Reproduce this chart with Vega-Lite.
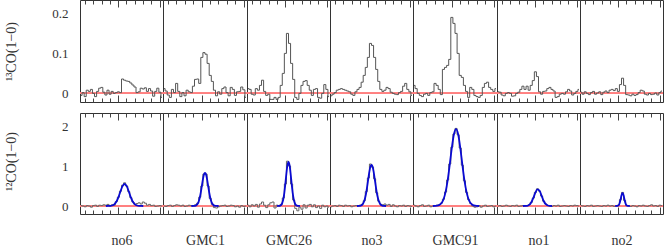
{
"$schema": "https://vega.github.io/schema/vega-lite/v6.json",
"padding": {"left": 3, "top": -1, "right": 0, "bottom": 0},
"spacing": 9,
"config": {
  "view": {"stroke": "#333333", "strokeWidth": 1},
  "axis": {"domain": false, "ticks": false, "grid": true, "gridColor": "#444444", "gridWidth": 1, "gridOpacity": 1, "labelFont": "Liberation Serif", "labelFontSize": 13, "labelColor": "#333333", "titleFont": "Liberation Serif", "titleFontSize": 14, "titleFontWeight": "normal", "titleColor": "#333333", "labelOverlap": false, "labelFlush": false},
  "concat": {"spacing": 0}
},
"datasets": {
"spec": [
{"s":"no6","c":0,"t":-0.005,"m":0.01},{"s":"no6","c":1,"t":0.002,"m":0.0},{"s":"no6","c":2,"t":-0.008,"m":-0.02},{"s":"no6","c":3,"t":0.008,"m":0.01},{"s":"no6","c":4,"t":0.005,"m":0.0},{"s":"no6","c":5,"t":0.01,"m":-0.03},{"s":"no6","c":6,"t":0.0,"m":0.01},{"s":"no6","c":7,"t":-0.008,"m":0.02},{"s":"no6","c":8,"t":0.005,"m":-0.01},{"s":"no6","c":9,"t":0.013,"m":0.02},
{"s":"no6","c":10,"t":0.015,"m":0.01},{"s":"no6","c":11,"t":0.003,"m":0.03},{"s":"no6","c":12,"t":-0.004,"m":0.02},{"s":"no6","c":13,"t":0.008,"m":0.04},{"s":"no6","c":14,"t":-0.002,"m":0.0},{"s":"no6","c":15,"t":0.005,"m":0.03},{"s":"no6","c":16,"t":0.0,"m":0.02},{"s":"no6","c":17,"t":0.002,"m":0.11},{"s":"no6","c":18,"t":0.004,"m":0.22},{"s":"no6","c":19,"t":0.002,"m":0.37},
{"s":"no6","c":20,"t":0.036,"m":0.52},{"s":"no6","c":21,"t":0.033,"m":0.58},{"s":"no6","c":22,"t":0.031,"m":0.5},{"s":"no6","c":23,"t":0.03,"m":0.36},{"s":"no6","c":24,"t":0.026,"m":0.21},{"s":"no6","c":25,"t":0.021,"m":0.1},{"s":"no6","c":26,"t":0.016,"m":0.04},{"s":"no6","c":27,"t":0.002,"m":0.06},{"s":"no6","c":28,"t":0.004,"m":0.08},{"s":"no6","c":29,"t":0.013,"m":0.05},
{"s":"no6","c":30,"t":0.011,"m":0.1},{"s":"no6","c":31,"t":0.014,"m":0.07},{"s":"no6","c":32,"t":0.005,"m":0.02},{"s":"no6","c":33,"t":0.012,"m":0.04},{"s":"no6","c":34,"t":0.006,"m":0.01},{"s":"no6","c":35,"t":-0.007,"m":0.02},{"s":"no6","c":36,"t":0.005,"m":-0.01},{"s":"no6","c":37,"t":0.013,"m":0.0},{"s":"no6","c":38,"t":0.003,"m":0.01},{"s":"no6","c":39,"t":-0.01,"m":0.0},

{"s":"GMC1","c":0,"t":0.012,"m":0.0},{"s":"GMC1","c":1,"t":0.006,"m":-0.01},{"s":"GMC1","c":2,"t":-0.004,"m":0.01},{"s":"GMC1","c":3,"t":-0.01,"m":0.02},{"s":"GMC1","c":4,"t":0.01,"m":-0.01},{"s":"GMC1","c":5,"t":0.002,"m":0.01},{"s":"GMC1","c":6,"t":0.025,"m":0.03},{"s":"GMC1","c":7,"t":0.005,"m":0.02},{"s":"GMC1","c":8,"t":-0.008,"m":0.0},{"s":"GMC1","c":9,"t":0.002,"m":0.02},
{"s":"GMC1","c":10,"t":-0.006,"m":-0.01},{"s":"GMC1","c":11,"t":0.008,"m":0.0},{"s":"GMC1","c":12,"t":0.004,"m":0.02},{"s":"GMC1","c":13,"t":0.002,"m":0.01},{"s":"GMC1","c":14,"t":0.018,"m":0.0},{"s":"GMC1","c":15,"t":0.035,"m":0.03},{"s":"GMC1","c":16,"t":0.036,"m":0.07},{"s":"GMC1","c":17,"t":0.025,"m":0.22},{"s":"GMC1","c":18,"t":0.09,"m":0.5},{"s":"GMC1","c":19,"t":0.102,"m":0.8},
{"s":"GMC1","c":20,"t":0.098,"m":0.8},{"s":"GMC1","c":21,"t":0.075,"m":0.5},{"s":"GMC1","c":22,"t":0.045,"m":0.19},{"s":"GMC1","c":23,"t":0.03,"m":0.04},{"s":"GMC1","c":24,"t":0.008,"m":-0.04},{"s":"GMC1","c":25,"t":-0.006,"m":-0.05},{"s":"GMC1","c":26,"t":0.004,"m":-0.02},{"s":"GMC1","c":27,"t":-0.002,"m":0.0},{"s":"GMC1","c":28,"t":0.012,"m":0.01},{"s":"GMC1","c":29,"t":0.016,"m":0.02},
{"s":"GMC1","c":30,"t":0.002,"m":-0.01},{"s":"GMC1","c":31,"t":-0.006,"m":0.0},{"s":"GMC1","c":32,"t":0.015,"m":0.02},{"s":"GMC1","c":33,"t":0.01,"m":0.01},{"s":"GMC1","c":34,"t":-0.005,"m":-0.02},{"s":"GMC1","c":35,"t":0.004,"m":0.0},{"s":"GMC1","c":36,"t":0.005,"m":-0.03},{"s":"GMC1","c":37,"t":0.016,"m":0.01},{"s":"GMC1","c":38,"t":0.009,"m":-0.01},{"s":"GMC1","c":39,"t":-0.01,"m":0.0},

{"s":"GMC26","c":0,"t":0.012,"m":0.02},{"s":"GMC26","c":1,"t":0.01,"m":-0.02},{"s":"GMC26","c":2,"t":-0.002,"m":0.03},{"s":"GMC26","c":3,"t":-0.004,"m":0.0},{"s":"GMC26","c":4,"t":0.012,"m":0.04},{"s":"GMC26","c":5,"t":0.008,"m":-0.03},{"s":"GMC26","c":6,"t":0.02,"m":0.05},{"s":"GMC26","c":7,"t":0.033,"m":0.1},{"s":"GMC26","c":8,"t":0.005,"m":0.02},{"s":"GMC26","c":9,"t":-0.005,"m":-0.04},
{"s":"GMC26","c":10,"t":-0.002,"m":0.03},{"s":"GMC26","c":11,"t":-0.015,"m":0.08},{"s":"GMC26","c":12,"t":-0.015,"m":0.1},{"s":"GMC26","c":13,"t":-0.01,"m":-0.05},{"s":"GMC26","c":14,"t":-0.015,"m":0.02},{"s":"GMC26","c":15,"t":-0.01,"m":0.0},{"s":"GMC26","c":16,"t":0.02,"m":0.04},{"s":"GMC26","c":17,"t":0.05,"m":0.2},{"s":"GMC26","c":18,"t":0.1,"m":0.55},{"s":"GMC26","c":19,"t":0.15,"m":1.12},
{"s":"GMC26","c":20,"t":0.125,"m":1.0},{"s":"GMC26","c":21,"t":0.075,"m":0.55},{"s":"GMC26","c":22,"t":0.035,"m":0.15},{"s":"GMC26","c":23,"t":-0.01,"m":-0.06},{"s":"GMC26","c":24,"t":-0.015,"m":-0.12},{"s":"GMC26","c":25,"t":0.0,"m":-0.03},{"s":"GMC26","c":26,"t":0.02,"m":-0.08},{"s":"GMC26","c":27,"t":0.03,"m":0.03},{"s":"GMC26","c":28,"t":0.032,"m":-0.05},{"s":"GMC26","c":29,"t":0.02,"m":0.02},
{"s":"GMC26","c":30,"t":0.008,"m":0.04},{"s":"GMC26","c":31,"t":-0.005,"m":-0.02},{"s":"GMC26","c":32,"t":0.01,"m":0.03},{"s":"GMC26","c":33,"t":0.012,"m":-0.04},{"s":"GMC26","c":34,"t":-0.01,"m":0.0},{"s":"GMC26","c":35,"t":-0.012,"m":-0.06},{"s":"GMC26","c":36,"t":0.0,"m":0.02},{"s":"GMC26","c":37,"t":0.022,"m":-0.02},{"s":"GMC26","c":38,"t":0.01,"m":0.0},{"s":"GMC26","c":39,"t":-0.008,"m":-0.03},

{"s":"no3","c":0,"t":-0.006,"m":-0.02},{"s":"no3","c":1,"t":-0.002,"m":0.0},{"s":"no3","c":2,"t":0.002,"m":0.01},{"s":"no3","c":3,"t":0.008,"m":-0.01},{"s":"no3","c":4,"t":0.01,"m":0.02},{"s":"no3","c":5,"t":0.012,"m":0.01},{"s":"no3","c":6,"t":0.01,"m":-0.01},{"s":"no3","c":7,"t":0.008,"m":0.02},{"s":"no3","c":8,"t":0.006,"m":0.0},{"s":"no3","c":9,"t":0.004,"m":0.01},
{"s":"no3","c":10,"t":-0.002,"m":-0.02},{"s":"no3","c":11,"t":-0.005,"m":0.0},{"s":"no3","c":12,"t":0.004,"m":0.01},{"s":"no3","c":13,"t":0.01,"m":0.0},{"s":"no3","c":14,"t":0.015,"m":0.02},{"s":"no3","c":15,"t":0.028,"m":0.04},{"s":"no3","c":16,"t":0.045,"m":0.13},{"s":"no3","c":17,"t":0.065,"m":0.36},{"s":"no3","c":18,"t":0.09,"m":0.7},{"s":"no3","c":19,"t":0.125,"m":1.05},
{"s":"no3","c":20,"t":0.12,"m":0.97},{"s":"no3","c":21,"t":0.09,"m":0.68},{"s":"no3","c":22,"t":0.06,"m":0.33},{"s":"no3","c":23,"t":0.03,"m":0.12},{"s":"no3","c":24,"t":0.01,"m":0.04},{"s":"no3","c":25,"t":0.005,"m":0.03},{"s":"no3","c":26,"t":0.008,"m":0.05},{"s":"no3","c":27,"t":0.015,"m":0.02},{"s":"no3","c":28,"t":0.012,"m":0.04},{"s":"no3","c":29,"t":0.003,"m":-0.01},
{"s":"no3","c":30,"t":0.0,"m":0.03},{"s":"no3","c":31,"t":-0.002,"m":0.0},{"s":"no3","c":32,"t":-0.003,"m":-0.02},{"s":"no3","c":33,"t":0.002,"m":0.01},{"s":"no3","c":34,"t":0.005,"m":0.0},{"s":"no3","c":35,"t":0.018,"m":0.02},{"s":"no3","c":36,"t":0.025,"m":-0.01},{"s":"no3","c":37,"t":0.01,"m":0.01},{"s":"no3","c":38,"t":0.004,"m":0.0},{"s":"no3","c":39,"t":-0.005,"m":-0.01},

{"s":"GMC91","c":0,"t":0.02,"m":0.02},{"s":"GMC91","c":1,"t":0.012,"m":0.0},{"s":"GMC91","c":2,"t":0.0,"m":-0.02},{"s":"GMC91","c":3,"t":-0.005,"m":0.01},{"s":"GMC91","c":4,"t":-0.008,"m":0.03},{"s":"GMC91","c":5,"t":-0.002,"m":-0.01},{"s":"GMC91","c":6,"t":0.0,"m":0.0},{"s":"GMC91","c":7,"t":-0.005,"m":0.02},{"s":"GMC91","c":8,"t":0.002,"m":-0.02},{"s":"GMC91","c":9,"t":0.004,"m":0.0},
{"s":"GMC91","c":10,"t":0.025,"m":0.01},{"s":"GMC91","c":11,"t":0.02,"m":0.02},{"s":"GMC91","c":12,"t":0.01,"m":0.03},{"s":"GMC91","c":13,"t":-0.003,"m":0.07},{"s":"GMC91","c":14,"t":0.06,"m":0.17},{"s":"GMC91","c":15,"t":0.065,"m":0.35},{"s":"GMC91","c":16,"t":0.07,"m":0.65},{"s":"GMC91","c":17,"t":0.085,"m":1.05},{"s":"GMC91","c":18,"t":0.19,"m":1.47},{"s":"GMC91","c":19,"t":0.175,"m":1.8},
{"s":"GMC91","c":20,"t":0.15,"m":1.94},{"s":"GMC91","c":21,"t":0.1,"m":1.78},{"s":"GMC91","c":22,"t":0.045,"m":1.45},{"s":"GMC91","c":23,"t":0.04,"m":1.02},{"s":"GMC91","c":24,"t":0.02,"m":0.63},{"s":"GMC91","c":25,"t":0.005,"m":0.34},{"s":"GMC91","c":26,"t":-0.01,"m":0.16},{"s":"GMC91","c":27,"t":0.015,"m":0.06},{"s":"GMC91","c":28,"t":0.01,"m":0.0},{"s":"GMC91","c":29,"t":-0.005,"m":-0.03},
{"s":"GMC91","c":30,"t":-0.008,"m":-0.02},{"s":"GMC91","c":31,"t":-0.01,"m":0.01},{"s":"GMC91","c":32,"t":-0.005,"m":-0.03},{"s":"GMC91","c":33,"t":0.015,"m":0.0},{"s":"GMC91","c":34,"t":0.025,"m":0.02},{"s":"GMC91","c":35,"t":0.028,"m":-0.01},{"s":"GMC91","c":36,"t":0.015,"m":0.0},{"s":"GMC91","c":37,"t":0.01,"m":0.01},{"s":"GMC91","c":38,"t":0.005,"m":-0.02},{"s":"GMC91","c":39,"t":0.012,"m":0.0},

{"s":"no1","c":0,"t":0.004,"m":0.0},{"s":"no1","c":1,"t":0.003,"m":0.01},{"s":"no1","c":2,"t":-0.004,"m":-0.01},{"s":"no1","c":3,"t":-0.006,"m":0.0},{"s":"no1","c":4,"t":0.0,"m":0.02},{"s":"no1","c":5,"t":0.002,"m":0.0},{"s":"no1","c":6,"t":0.0,"m":-0.01},{"s":"no1","c":7,"t":-0.007,"m":0.01},{"s":"no1","c":8,"t":-0.006,"m":0.0},{"s":"no1","c":9,"t":0.0,"m":0.02},
{"s":"no1","c":10,"t":0.003,"m":-0.01},{"s":"no1","c":11,"t":0.01,"m":0.0},{"s":"no1","c":12,"t":0.018,"m":0.01},{"s":"no1","c":13,"t":0.01,"m":0.0},{"s":"no1","c":14,"t":0.018,"m":0.01},{"s":"no1","c":15,"t":0.008,"m":0.03},{"s":"no1","c":16,"t":0.02,"m":0.09},{"s":"no1","c":17,"t":0.032,"m":0.2},{"s":"no1","c":18,"t":0.054,"m":0.34},{"s":"no1","c":19,"t":0.042,"m":0.43},
{"s":"no1","c":20,"t":0.004,"m":0.37},{"s":"no1","c":21,"t":-0.002,"m":0.25},{"s":"no1","c":22,"t":0.005,"m":0.12},{"s":"no1","c":23,"t":0.006,"m":0.05},{"s":"no1","c":24,"t":0.012,"m":0.01},{"s":"no1","c":25,"t":0.015,"m":0.0},{"s":"no1","c":26,"t":0.01,"m":-0.01},{"s":"no1","c":27,"t":0.006,"m":0.01},{"s":"no1","c":28,"t":-0.01,"m":0.0},{"s":"no1","c":29,"t":-0.008,"m":0.02},
{"s":"no1","c":30,"t":-0.002,"m":-0.01},{"s":"no1","c":31,"t":0.0,"m":0.0},{"s":"no1","c":32,"t":-0.002,"m":0.01},{"s":"no1","c":33,"t":0.004,"m":0.0},{"s":"no1","c":34,"t":0.01,"m":-0.01},{"s":"no1","c":35,"t":0.006,"m":0.01},{"s":"no1","c":36,"t":-0.004,"m":0.0},{"s":"no1","c":37,"t":0.0,"m":0.02},{"s":"no1","c":38,"t":0.005,"m":0.01},{"s":"no1","c":39,"t":0.01,"m":0.0},

{"s":"no2","c":0,"t":0.003,"m":0.01},{"s":"no2","c":1,"t":-0.002,"m":0.0},{"s":"no2","c":2,"t":0.004,"m":-0.01},{"s":"no2","c":3,"t":0.0,"m":0.01},{"s":"no2","c":4,"t":-0.003,"m":0.0},{"s":"no2","c":5,"t":0.002,"m":0.02},{"s":"no2","c":6,"t":0.005,"m":-0.01},{"s":"no2","c":7,"t":-0.002,"m":0.0},{"s":"no2","c":8,"t":0.001,"m":0.01},{"s":"no2","c":9,"t":0.004,"m":0.0},
{"s":"no2","c":10,"t":-0.003,"m":-0.01},{"s":"no2","c":11,"t":0.003,"m":0.01},{"s":"no2","c":12,"t":0.006,"m":0.0},{"s":"no2","c":13,"t":0.002,"m":0.02},{"s":"no2","c":14,"t":0.008,"m":0.0},{"s":"no2","c":15,"t":0.01,"m":0.01},{"s":"no2","c":16,"t":0.007,"m":-0.01},{"s":"no2","c":17,"t":0.012,"m":0.0},{"s":"no2","c":18,"t":0.005,"m":0.02},{"s":"no2","c":19,"t":0.022,"m":0.16},
{"s":"no2","c":20,"t":0.038,"m":0.34},{"s":"no2","c":21,"t":0.02,"m":0.14},{"s":"no2","c":22,"t":-0.003,"m":0.01},{"s":"no2","c":23,"t":-0.004,"m":0.0},{"s":"no2","c":24,"t":-0.006,"m":-0.01},{"s":"no2","c":25,"t":-0.002,"m":0.01},{"s":"no2","c":26,"t":-0.005,"m":0.0},{"s":"no2","c":27,"t":-0.003,"m":-0.02},{"s":"no2","c":28,"t":0.002,"m":0.01},{"s":"no2","c":29,"t":0.008,"m":0.0},
{"s":"no2","c":30,"t":0.006,"m":0.02},{"s":"no2","c":31,"t":-0.002,"m":0.0},{"s":"no2","c":32,"t":-0.004,"m":-0.01},{"s":"no2","c":33,"t":0.0,"m":0.01},{"s":"no2","c":34,"t":-0.003,"m":0.03},{"s":"no2","c":35,"t":-0.002,"m":0.0},{"s":"no2","c":36,"t":0.001,"m":0.01},{"s":"no2","c":37,"t":-0.004,"m":-0.01},{"s":"no2","c":38,"t":0.002,"m":0.02},{"s":"no2","c":39,"t":0.006,"m":0.01}
],
"fit": [
{"s":"no6","x":12,"f":0},{"s":"no6","x":13,"f":0.001},{"s":"no6","x":14,"f":0.003},{"s":"no6","x":15,"f":0.013},{"s":"no6","x":16,"f":0.042},{"s":"no6","x":17,"f":0.105},{"s":"no6","x":18,"f":0.217},{"s":"no6","x":19,"f":0.364},{"s":"no6","x":20,"f":0.496},{"s":"no6","x":21,"f":0.55},{"s":"no6","x":22,"f":0.496},{"s":"no6","x":23,"f":0.364},{"s":"no6","x":24,"f":0.217},{"s":"no6","x":25,"f":0.105},{"s":"no6","x":26,"f":0.042},{"s":"no6","x":27,"f":0.013},{"s":"no6","x":28,"f":0.003},{"s":"no6","x":29,"f":0.001},{"s":"no6","x":30,"f":0},
{"s":"GMC1","x":13,"f":0},{"s":"GMC1","x":14,"f":0.001},{"s":"GMC1","x":14.5,"f":0.003},{"s":"GMC1","x":15,"f":0.009},{"s":"GMC1","x":15.5,"f":0.024},{"s":"GMC1","x":16,"f":0.055},{"s":"GMC1","x":16.5,"f":0.112},{"s":"GMC1","x":17,"f":0.207},{"s":"GMC1","x":17.5,"f":0.341},{"s":"GMC1","x":18,"f":0.503},{"s":"GMC1","x":18.5,"f":0.665},{"s":"GMC1","x":19,"f":0.785},{"s":"GMC1","x":19.5,"f":0.83},{"s":"GMC1","x":20,"f":0.785},{"s":"GMC1","x":20.5,"f":0.665},{"s":"GMC1","x":21,"f":0.503},{"s":"GMC1","x":21.5,"f":0.341},{"s":"GMC1","x":22,"f":0.207},{"s":"GMC1","x":22.5,"f":0.112},{"s":"GMC1","x":23,"f":0.055},{"s":"GMC1","x":23.5,"f":0.024},{"s":"GMC1","x":24,"f":0.009},{"s":"GMC1","x":24.5,"f":0.003},{"s":"GMC1","x":25,"f":0.001},{"s":"GMC1","x":26,"f":0},
{"s":"GMC26","x":14,"f":0},{"s":"GMC26","x":14.5,"f":0.001},{"s":"GMC26","x":15,"f":0.003},{"s":"GMC26","x":15.5,"f":0.01},{"s":"GMC26","x":16,"f":0.029},{"s":"GMC26","x":16.5,"f":0.077},{"s":"GMC26","x":17,"f":0.173},{"s":"GMC26","x":17.5,"f":0.337},{"s":"GMC26","x":18,"f":0.565},{"s":"GMC26","x":18.5,"f":0.818},{"s":"GMC26","x":19,"f":1.021},{"s":"GMC26","x":19.5,"f":1.1},{"s":"GMC26","x":20,"f":1.021},{"s":"GMC26","x":20.5,"f":0.818},{"s":"GMC26","x":21,"f":0.565},{"s":"GMC26","x":21.5,"f":0.337},{"s":"GMC26","x":22,"f":0.173},{"s":"GMC26","x":22.5,"f":0.077},{"s":"GMC26","x":23,"f":0.029},{"s":"GMC26","x":23.5,"f":0.01},{"s":"GMC26","x":24,"f":0.003},{"s":"GMC26","x":24.5,"f":0.001},{"s":"GMC26","x":25,"f":0},
{"s":"no3","x":12.5,"f":0},{"s":"no3","x":13.5,"f":0.002},{"s":"no3","x":14,"f":0.005},{"s":"no3","x":14.5,"f":0.014},{"s":"no3","x":15,"f":0.031},{"s":"no3","x":15.5,"f":0.065},{"s":"no3","x":16,"f":0.124},{"s":"no3","x":16.5,"f":0.217},{"s":"no3","x":17,"f":0.349},{"s":"no3","x":17.5,"f":0.515},{"s":"no3","x":18,"f":0.698},{"s":"no3","x":18.5,"f":0.866},{"s":"no3","x":19,"f":0.986},{"s":"no3","x":19.5,"f":1.03},{"s":"no3","x":20,"f":0.986},{"s":"no3","x":20.5,"f":0.866},{"s":"no3","x":21,"f":0.698},{"s":"no3","x":21.5,"f":0.515},{"s":"no3","x":22,"f":0.349},{"s":"no3","x":22.5,"f":0.217},{"s":"no3","x":23,"f":0.124},{"s":"no3","x":23.5,"f":0.065},{"s":"no3","x":24,"f":0.031},{"s":"no3","x":24.5,"f":0.014},{"s":"no3","x":25,"f":0.005},{"s":"no3","x":25.5,"f":0.002},{"s":"no3","x":26.5,"f":0},
{"s":"GMC91","x":9,"f":0},{"s":"GMC91","x":10,"f":0.002},{"s":"GMC91","x":11,"f":0.007},{"s":"GMC91","x":12,"f":0.024},{"s":"GMC91","x":13,"f":0.067},{"s":"GMC91","x":14,"f":0.163},{"s":"GMC91","x":15,"f":0.346},{"s":"GMC91","x":16,"f":0.641},{"s":"GMC91","x":17,"f":1.036},{"s":"GMC91","x":18,"f":1.46},{"s":"GMC91","x":19,"f":1.793},{"s":"GMC91","x":20,"f":1.92},{"s":"GMC91","x":21,"f":1.793},{"s":"GMC91","x":22,"f":1.46},{"s":"GMC91","x":23,"f":1.036},{"s":"GMC91","x":24,"f":0.641},{"s":"GMC91","x":25,"f":0.346},{"s":"GMC91","x":26,"f":0.163},{"s":"GMC91","x":27,"f":0.067},{"s":"GMC91","x":28,"f":0.024},{"s":"GMC91","x":29,"f":0.007},{"s":"GMC91","x":30,"f":0.002},{"s":"GMC91","x":31,"f":0},
{"s":"no1","x":12,"f":0},{"s":"no1","x":13,"f":0.001},{"s":"no1","x":14,"f":0.006},{"s":"no1","x":15,"f":0.028},{"s":"no1","x":16,"f":0.087},{"s":"no1","x":17,"f":0.199},{"s":"no1","x":18,"f":0.336},{"s":"no1","x":19,"f":0.417},{"s":"no1","x":20,"f":0.38},{"s":"no1","x":21,"f":0.255},{"s":"no1","x":22,"f":0.125},{"s":"no1","x":23,"f":0.045},{"s":"no1","x":24,"f":0.012},{"s":"no1","x":25,"f":0.002},{"s":"no1","x":26,"f":0},
{"s":"no2","x":16.5,"f":0},{"s":"no2","x":17,"f":0.001},{"s":"no2","x":17.5,"f":0.003},{"s":"no2","x":18,"f":0.015},{"s":"no2","x":18.5,"f":0.057},{"s":"no2","x":19,"f":0.151},{"s":"no2","x":19.5,"f":0.271},{"s":"no2","x":20,"f":0.33},{"s":"no2","x":20.5,"f":0.271},{"s":"no2","x":21,"f":0.151},{"s":"no2","x":21.5,"f":0.057},{"s":"no2","x":22,"f":0.015},{"s":"no2","x":22.5,"f":0.003},{"s":"no2","x":23,"f":0.001},{"s":"no2","x":23.5,"f":0}
]
},
"data": {"name": "spec"},
"vconcat": [
{"bounds": "flush", "hconcat": [
{"width":83,"height":102,"transform":[{"filter":"datum.s==='no6'"}],"resolve":{"axis":{"x":"independent","y":"independent"}},"layer":[
 {"mark":{"type":"rule","color":"#ff8080","strokeWidth":1},"encoding":{"y":{"datum":0,"type":"quantitative","scale":{"domain":[-0.0215,0.2335],"nice":false,"zero":false},"axis":{"values":[0,0.1,0.2],"grid":false,"labels":true,"format":"~g","labelPadding":12,"title":"¹³CO(1−0)","titleX":-62,"titleY":51}}}},
 {"mark":{"type":"line","interpolate":"step","color":"#555555","strokeWidth":1},"encoding":{"x":{"field":"c","type":"quantitative","scale":{"domain":[-0.5,39.5],"nice":false,"zero":false},"axis":{"values":[1.9,5.9,9.9,13.9,17.9,21.9,25.9,29.9,33.9,37.9],"gridDash":{"condition":{"test":"datum.value==17.9||datum.value==37.9","value":[7,88]},"value":[4,94]},"labels":false,"title":null}},"y":{"field":"t","type":"quantitative","scale":{"domain":[-0.0215,0.2335],"nice":false,"zero":false},"axis":{"values":[-0.02,0,0.02,0.04,0.06,0.08,0.1,0.12,0.14,0.16,0.18,0.2,0.22],"gridDash":{"condition":{"test":"datum.value==0||datum.value==0.1||datum.value==0.2","value":[7,69]},"value":[4,75]},"labels":false,"title":null}}}}
]},
{"width":84,"height":102,"transform":[{"filter":"datum.s==='GMC1'"}],"resolve":{"axis":{"x":"independent","y":"independent"}},"layer":[
 {"mark":{"type":"rule","color":"#ff8080","strokeWidth":1},"encoding":{"y":{"datum":0,"type":"quantitative","scale":{"domain":[-0.0215,0.2335],"nice":false,"zero":false},"axis":null}}},
 {"mark":{"type":"line","interpolate":"step","color":"#555555","strokeWidth":1},"encoding":{"x":{"field":"c","type":"quantitative","scale":{"domain":[-0.5,39.5],"nice":false,"zero":false},"axis":{"values":[1.9,5.9,9.9,13.9,17.9,21.9,25.9,29.9,33.9,37.9],"gridDash":{"condition":{"test":"datum.value==17.9||datum.value==37.9","value":[7,88]},"value":[4,94]},"labels":false,"title":null}},"y":{"field":"t","type":"quantitative","scale":{"domain":[-0.0215,0.2335],"nice":false,"zero":false},"axis":{"values":[-0.02,0,0.02,0.04,0.06,0.08,0.1,0.12,0.14,0.16,0.18,0.2,0.22],"gridDash":{"condition":{"test":"datum.value==0||datum.value==0.1||datum.value==0.2","value":[7,70]},"value":[4,76]},"labels":false,"title":null}}}}
]},
{"width":83,"height":102,"transform":[{"filter":"datum.s==='GMC26'"}],"resolve":{"axis":{"x":"independent","y":"independent"}},"layer":[
 {"mark":{"type":"rule","color":"#ff8080","strokeWidth":1},"encoding":{"y":{"datum":0,"type":"quantitative","scale":{"domain":[-0.0215,0.2335],"nice":false,"zero":false},"axis":null}}},
 {"mark":{"type":"line","interpolate":"step","color":"#555555","strokeWidth":1},"encoding":{"x":{"field":"c","type":"quantitative","scale":{"domain":[-0.5,39.5],"nice":false,"zero":false},"axis":{"values":[1.9,5.9,9.9,13.9,17.9,21.9,25.9,29.9,33.9,37.9],"gridDash":{"condition":{"test":"datum.value==17.9||datum.value==37.9","value":[7,88]},"value":[4,94]},"labels":false,"title":null}},"y":{"field":"t","type":"quantitative","scale":{"domain":[-0.0215,0.2335],"nice":false,"zero":false},"axis":{"values":[-0.02,0,0.02,0.04,0.06,0.08,0.1,0.12,0.14,0.16,0.18,0.2,0.22],"gridDash":{"condition":{"test":"datum.value==0||datum.value==0.1||datum.value==0.2","value":[7,69]},"value":[4,75]},"labels":false,"title":null}}}}
]},
{"width":83,"height":102,"transform":[{"filter":"datum.s==='no3'"}],"resolve":{"axis":{"x":"independent","y":"independent"}},"layer":[
 {"mark":{"type":"rule","color":"#ff8080","strokeWidth":1},"encoding":{"y":{"datum":0,"type":"quantitative","scale":{"domain":[-0.0215,0.2335],"nice":false,"zero":false},"axis":null}}},
 {"mark":{"type":"line","interpolate":"step","color":"#555555","strokeWidth":1},"encoding":{"x":{"field":"c","type":"quantitative","scale":{"domain":[-0.5,39.5],"nice":false,"zero":false},"axis":{"values":[1.9,5.9,9.9,13.9,17.9,21.9,25.9,29.9,33.9,37.9],"gridDash":{"condition":{"test":"datum.value==17.9||datum.value==37.9","value":[7,88]},"value":[4,94]},"labels":false,"title":null}},"y":{"field":"t","type":"quantitative","scale":{"domain":[-0.0215,0.2335],"nice":false,"zero":false},"axis":{"values":[-0.02,0,0.02,0.04,0.06,0.08,0.1,0.12,0.14,0.16,0.18,0.2,0.22],"gridDash":{"condition":{"test":"datum.value==0||datum.value==0.1||datum.value==0.2","value":[7,69]},"value":[4,75]},"labels":false,"title":null}}}}
]},
{"width":84,"height":102,"transform":[{"filter":"datum.s==='GMC91'"}],"resolve":{"axis":{"x":"independent","y":"independent"}},"layer":[
 {"mark":{"type":"rule","color":"#ff8080","strokeWidth":1},"encoding":{"y":{"datum":0,"type":"quantitative","scale":{"domain":[-0.0215,0.2335],"nice":false,"zero":false},"axis":null}}},
 {"mark":{"type":"line","interpolate":"step","color":"#555555","strokeWidth":1},"encoding":{"x":{"field":"c","type":"quantitative","scale":{"domain":[-0.5,39.5],"nice":false,"zero":false},"axis":{"values":[1.9,5.9,9.9,13.9,17.9,21.9,25.9,29.9,33.9,37.9],"gridDash":{"condition":{"test":"datum.value==17.9||datum.value==37.9","value":[7,88]},"value":[4,94]},"labels":false,"title":null}},"y":{"field":"t","type":"quantitative","scale":{"domain":[-0.0215,0.2335],"nice":false,"zero":false},"axis":{"values":[-0.02,0,0.02,0.04,0.06,0.08,0.1,0.12,0.14,0.16,0.18,0.2,0.22],"gridDash":{"condition":{"test":"datum.value==0||datum.value==0.1||datum.value==0.2","value":[7,70]},"value":[4,76]},"labels":false,"title":null}}}}
]},
{"width":83,"height":102,"transform":[{"filter":"datum.s==='no1'"}],"resolve":{"axis":{"x":"independent","y":"independent"}},"layer":[
 {"mark":{"type":"rule","color":"#ff8080","strokeWidth":1},"encoding":{"y":{"datum":0,"type":"quantitative","scale":{"domain":[-0.0215,0.2335],"nice":false,"zero":false},"axis":null}}},
 {"mark":{"type":"line","interpolate":"step","color":"#555555","strokeWidth":1},"encoding":{"x":{"field":"c","type":"quantitative","scale":{"domain":[-0.5,39.5],"nice":false,"zero":false},"axis":{"values":[1.9,5.9,9.9,13.9,17.9,21.9,25.9,29.9,33.9,37.9],"gridDash":{"condition":{"test":"datum.value==17.9||datum.value==37.9","value":[7,88]},"value":[4,94]},"labels":false,"title":null}},"y":{"field":"t","type":"quantitative","scale":{"domain":[-0.0215,0.2335],"nice":false,"zero":false},"axis":{"values":[-0.02,0,0.02,0.04,0.06,0.08,0.1,0.12,0.14,0.16,0.18,0.2,0.22],"gridDash":{"condition":{"test":"datum.value==0||datum.value==0.1||datum.value==0.2","value":[7,69]},"value":[4,75]},"labels":false,"title":null}}}}
]},
{"width":83,"height":102,"transform":[{"filter":"datum.s==='no2'"}],"resolve":{"axis":{"x":"independent","y":"independent"}},"layer":[
 {"mark":{"type":"rule","color":"#ff8080","strokeWidth":1},"encoding":{"y":{"datum":0,"type":"quantitative","scale":{"domain":[-0.0215,0.2335],"nice":false,"zero":false},"axis":null}}},
 {"mark":{"type":"line","interpolate":"step","color":"#555555","strokeWidth":1},"encoding":{"x":{"field":"c","type":"quantitative","scale":{"domain":[-0.5,39.5],"nice":false,"zero":false},"axis":{"values":[1.9,5.9,9.9,13.9,17.9,21.9,25.9,29.9,33.9,37.9],"gridDash":{"condition":{"test":"datum.value==17.9||datum.value==37.9","value":[7,88]},"value":[4,94]},"labels":false,"title":null}},"y":{"field":"t","type":"quantitative","scale":{"domain":[-0.0215,0.2335],"nice":false,"zero":false},"axis":{"values":[-0.02,0,0.02,0.04,0.06,0.08,0.1,0.12,0.14,0.16,0.18,0.2,0.22],"gridDash":{"condition":{"test":"datum.value==0||datum.value==0.1||datum.value==0.2","value":[7,69]},"value":[4,75]},"labels":false,"title":null}}}}
]}
]},
{"bounds": "flush", "hconcat": [
{"width":83,"height":101,"transform":[{"filter":"datum.s==='no6'"}],"resolve":{"axis":{"x":"independent","y":"independent"}},"layer":[
 {"mark":{"type":"rule","color":"#ff8080","strokeWidth":1},"encoding":{"y":{"datum":0,"type":"quantitative","scale":{"domain":[-0.2,2.325],"nice":false,"zero":false},"axis":{"values":[0,1,2],"grid":false,"labels":true,"format":"~g","labelPadding":12,"title":"¹²CO(1−0)","titleX":-62,"titleY":48}}}},
 {"mark":{"type":"line","interpolate":"step","color":"#666666","strokeWidth":1},"encoding":{"x":{"field":"c","type":"quantitative","scale":{"domain":[-0.5,39.5],"nice":false,"zero":false},"axis":{"values":[1.9,5.9,9.9,13.9,17.9,21.9,25.9,29.9,33.9,37.9],"gridDash":{"condition":{"test":"datum.value==17.9||datum.value==37.9","value":[7,87]},"value":[4,93]},"labels":false,"title":"no6","titlePadding":19}},"y":{"field":"m","type":"quantitative","scale":{"domain":[-0.2,2.325],"nice":false,"zero":false},"axis":{"values":[-0.2,0,0.2,0.4,0.6,0.8,1,1.2,1.4,1.6,1.8,2,2.2],"gridDash":{"condition":{"test":"datum.value==0||datum.value==1||datum.value==2","value":[7,69]},"value":[4,75]},"labels":false,"title":null}}}},
 {"data":{"name":"fit"},"transform":[{"filter":"datum.s==='no6'"}],"mark":{"type":"line","interpolate":"monotone","color":"#0a0ad2","strokeWidth":1.8},"encoding":{"x":{"field":"x","type":"quantitative","axis":null},"y":{"field":"f","type":"quantitative","axis":null}}}
]},
{"width":84,"height":101,"transform":[{"filter":"datum.s==='GMC1'"}],"resolve":{"axis":{"x":"independent","y":"independent"}},"layer":[
 {"mark":{"type":"rule","color":"#ff8080","strokeWidth":1},"encoding":{"y":{"datum":0,"type":"quantitative","scale":{"domain":[-0.2,2.325],"nice":false,"zero":false},"axis":null}}},
 {"mark":{"type":"line","interpolate":"step","color":"#666666","strokeWidth":1},"encoding":{"x":{"field":"c","type":"quantitative","scale":{"domain":[-0.5,39.5],"nice":false,"zero":false},"axis":{"values":[1.9,5.9,9.9,13.9,17.9,21.9,25.9,29.9,33.9,37.9],"gridDash":{"condition":{"test":"datum.value==17.9||datum.value==37.9","value":[7,87]},"value":[4,93]},"labels":false,"title":"GMC1","titlePadding":19}},"y":{"field":"m","type":"quantitative","scale":{"domain":[-0.2,2.325],"nice":false,"zero":false},"axis":{"values":[-0.2,0,0.2,0.4,0.6,0.8,1,1.2,1.4,1.6,1.8,2,2.2],"gridDash":{"condition":{"test":"datum.value==0||datum.value==1||datum.value==2","value":[7,70]},"value":[4,76]},"labels":false,"title":null}}}},
 {"data":{"name":"fit"},"transform":[{"filter":"datum.s==='GMC1'"}],"mark":{"type":"line","interpolate":"monotone","color":"#0a0ad2","strokeWidth":1.8},"encoding":{"x":{"field":"x","type":"quantitative","axis":null},"y":{"field":"f","type":"quantitative","axis":null}}}
]},
{"width":83,"height":101,"transform":[{"filter":"datum.s==='GMC26'"}],"resolve":{"axis":{"x":"independent","y":"independent"}},"layer":[
 {"mark":{"type":"rule","color":"#ff8080","strokeWidth":1},"encoding":{"y":{"datum":0,"type":"quantitative","scale":{"domain":[-0.2,2.325],"nice":false,"zero":false},"axis":null}}},
 {"mark":{"type":"line","interpolate":"step","color":"#666666","strokeWidth":1},"encoding":{"x":{"field":"c","type":"quantitative","scale":{"domain":[-0.5,39.5],"nice":false,"zero":false},"axis":{"values":[1.9,5.9,9.9,13.9,17.9,21.9,25.9,29.9,33.9,37.9],"gridDash":{"condition":{"test":"datum.value==17.9||datum.value==37.9","value":[7,87]},"value":[4,93]},"labels":false,"title":"GMC26","titlePadding":19}},"y":{"field":"m","type":"quantitative","scale":{"domain":[-0.2,2.325],"nice":false,"zero":false},"axis":{"values":[-0.2,0,0.2,0.4,0.6,0.8,1,1.2,1.4,1.6,1.8,2,2.2],"gridDash":{"condition":{"test":"datum.value==0||datum.value==1||datum.value==2","value":[7,69]},"value":[4,75]},"labels":false,"title":null}}}},
 {"data":{"name":"fit"},"transform":[{"filter":"datum.s==='GMC26'"}],"mark":{"type":"line","interpolate":"monotone","color":"#0a0ad2","strokeWidth":1.8},"encoding":{"x":{"field":"x","type":"quantitative","axis":null},"y":{"field":"f","type":"quantitative","axis":null}}}
]},
{"width":83,"height":101,"transform":[{"filter":"datum.s==='no3'"}],"resolve":{"axis":{"x":"independent","y":"independent"}},"layer":[
 {"mark":{"type":"rule","color":"#ff8080","strokeWidth":1},"encoding":{"y":{"datum":0,"type":"quantitative","scale":{"domain":[-0.2,2.325],"nice":false,"zero":false},"axis":null}}},
 {"mark":{"type":"line","interpolate":"step","color":"#666666","strokeWidth":1},"encoding":{"x":{"field":"c","type":"quantitative","scale":{"domain":[-0.5,39.5],"nice":false,"zero":false},"axis":{"values":[1.9,5.9,9.9,13.9,17.9,21.9,25.9,29.9,33.9,37.9],"gridDash":{"condition":{"test":"datum.value==17.9||datum.value==37.9","value":[7,87]},"value":[4,93]},"labels":false,"title":"no3","titlePadding":19}},"y":{"field":"m","type":"quantitative","scale":{"domain":[-0.2,2.325],"nice":false,"zero":false},"axis":{"values":[-0.2,0,0.2,0.4,0.6,0.8,1,1.2,1.4,1.6,1.8,2,2.2],"gridDash":{"condition":{"test":"datum.value==0||datum.value==1||datum.value==2","value":[7,69]},"value":[4,75]},"labels":false,"title":null}}}},
 {"data":{"name":"fit"},"transform":[{"filter":"datum.s==='no3'"}],"mark":{"type":"line","interpolate":"monotone","color":"#0a0ad2","strokeWidth":1.8},"encoding":{"x":{"field":"x","type":"quantitative","axis":null},"y":{"field":"f","type":"quantitative","axis":null}}}
]},
{"width":84,"height":101,"transform":[{"filter":"datum.s==='GMC91'"}],"resolve":{"axis":{"x":"independent","y":"independent"}},"layer":[
 {"mark":{"type":"rule","color":"#ff8080","strokeWidth":1},"encoding":{"y":{"datum":0,"type":"quantitative","scale":{"domain":[-0.2,2.325],"nice":false,"zero":false},"axis":null}}},
 {"mark":{"type":"line","interpolate":"step","color":"#666666","strokeWidth":1},"encoding":{"x":{"field":"c","type":"quantitative","scale":{"domain":[-0.5,39.5],"nice":false,"zero":false},"axis":{"values":[1.9,5.9,9.9,13.9,17.9,21.9,25.9,29.9,33.9,37.9],"gridDash":{"condition":{"test":"datum.value==17.9||datum.value==37.9","value":[7,87]},"value":[4,93]},"labels":false,"title":"GMC91","titlePadding":19}},"y":{"field":"m","type":"quantitative","scale":{"domain":[-0.2,2.325],"nice":false,"zero":false},"axis":{"values":[-0.2,0,0.2,0.4,0.6,0.8,1,1.2,1.4,1.6,1.8,2,2.2],"gridDash":{"condition":{"test":"datum.value==0||datum.value==1||datum.value==2","value":[7,70]},"value":[4,76]},"labels":false,"title":null}}}},
 {"data":{"name":"fit"},"transform":[{"filter":"datum.s==='GMC91'"}],"mark":{"type":"line","interpolate":"monotone","color":"#0a0ad2","strokeWidth":1.8},"encoding":{"x":{"field":"x","type":"quantitative","axis":null},"y":{"field":"f","type":"quantitative","axis":null}}}
]},
{"width":83,"height":101,"transform":[{"filter":"datum.s==='no1'"}],"resolve":{"axis":{"x":"independent","y":"independent"}},"layer":[
 {"mark":{"type":"rule","color":"#ff8080","strokeWidth":1},"encoding":{"y":{"datum":0,"type":"quantitative","scale":{"domain":[-0.2,2.325],"nice":false,"zero":false},"axis":null}}},
 {"mark":{"type":"line","interpolate":"step","color":"#666666","strokeWidth":1},"encoding":{"x":{"field":"c","type":"quantitative","scale":{"domain":[-0.5,39.5],"nice":false,"zero":false},"axis":{"values":[1.9,5.9,9.9,13.9,17.9,21.9,25.9,29.9,33.9,37.9],"gridDash":{"condition":{"test":"datum.value==17.9||datum.value==37.9","value":[7,87]},"value":[4,93]},"labels":false,"title":"no1","titlePadding":19}},"y":{"field":"m","type":"quantitative","scale":{"domain":[-0.2,2.325],"nice":false,"zero":false},"axis":{"values":[-0.2,0,0.2,0.4,0.6,0.8,1,1.2,1.4,1.6,1.8,2,2.2],"gridDash":{"condition":{"test":"datum.value==0||datum.value==1||datum.value==2","value":[7,69]},"value":[4,75]},"labels":false,"title":null}}}},
 {"data":{"name":"fit"},"transform":[{"filter":"datum.s==='no1'"}],"mark":{"type":"line","interpolate":"monotone","color":"#0a0ad2","strokeWidth":1.8},"encoding":{"x":{"field":"x","type":"quantitative","axis":null},"y":{"field":"f","type":"quantitative","axis":null}}}
]},
{"width":83,"height":101,"transform":[{"filter":"datum.s==='no2'"}],"resolve":{"axis":{"x":"independent","y":"independent"}},"layer":[
 {"mark":{"type":"rule","color":"#ff8080","strokeWidth":1},"encoding":{"y":{"datum":0,"type":"quantitative","scale":{"domain":[-0.2,2.325],"nice":false,"zero":false},"axis":null}}},
 {"mark":{"type":"line","interpolate":"step","color":"#666666","strokeWidth":1},"encoding":{"x":{"field":"c","type":"quantitative","scale":{"domain":[-0.5,39.5],"nice":false,"zero":false},"axis":{"values":[1.9,5.9,9.9,13.9,17.9,21.9,25.9,29.9,33.9,37.9],"gridDash":{"condition":{"test":"datum.value==17.9||datum.value==37.9","value":[7,87]},"value":[4,93]},"labels":false,"title":"no2","titlePadding":19}},"y":{"field":"m","type":"quantitative","scale":{"domain":[-0.2,2.325],"nice":false,"zero":false},"axis":{"values":[-0.2,0,0.2,0.4,0.6,0.8,1,1.2,1.4,1.6,1.8,2,2.2],"gridDash":{"condition":{"test":"datum.value==0||datum.value==1||datum.value==2","value":[7,69]},"value":[4,75]},"labels":false,"title":null}}}},
 {"data":{"name":"fit"},"transform":[{"filter":"datum.s==='no2'"}],"mark":{"type":"line","interpolate":"monotone","color":"#0a0ad2","strokeWidth":1.8},"encoding":{"x":{"field":"x","type":"quantitative","axis":null},"y":{"field":"f","type":"quantitative","axis":null}}}
]}
]}
]
}
